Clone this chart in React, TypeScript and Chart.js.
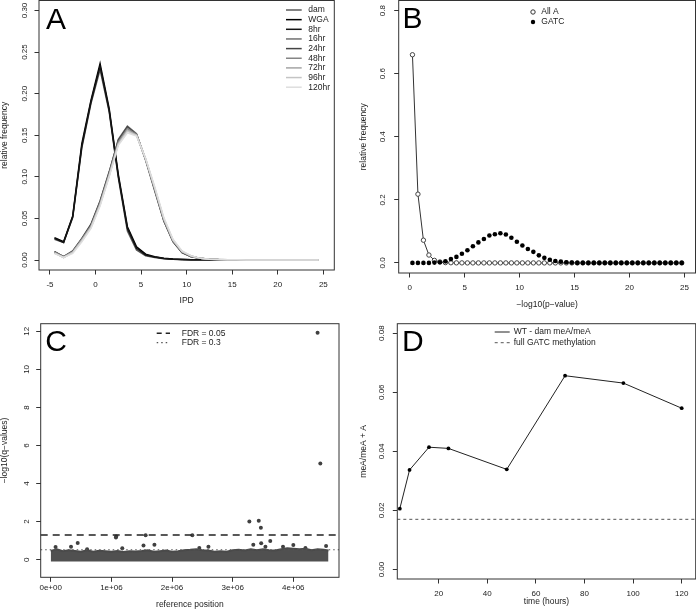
import React, { useEffect, useRef } from 'react';
import { Chart, registerables } from 'chart.js';
Chart.register(...registerables);

const PAGE_W = 696;
const PAGE_H = 609;
const FONT = '"Liberation Sans", Arial, Helvetica, sans-serif';
const INK = '#222';
const AXIS = '#333';
const TICK_SIZE = 8;
const TITLE_SIZE = 8.5;
const LEGEND_SIZE = 8.5;

// ---------------- Panel A: IPD distributions ----------------
const ipdBins = [-4.5, -3.5, -2.5, -1.5, -0.5, 0.5, 1.5, 2.5, 3.5, 4.5, 5.5, 6.5, 7.5, 8.5, 9.5, 10.5, 11.5, 12.5, 13.5, 14.5, 15.5, 16.5, 17.5, 18.5, 19.5, 20.5, 21.5, 22.5, 23.5, 24.5];
const ipdLabels = ['dam', 'WGA', '8hr', '16hr', '24hr', '48hr', '72hr', '96hr', '120hr'];
const ipdColors = ['#5a5a5a', '#000000', '#141414', '#707070', '#444444', '#858585', '#a5a5a5', '#c4c4c4', '#dedede'];
const ipdDam = [0.025, 0.021, 0.051, 0.135, 0.188, 0.229, 0.178, 0.099, 0.035, 0.012, 0.005, 0.003, 0.0015, 0.001, 0.0006, 0.0004, 0.0003, 0.0002, 0.0001, 0.0001, 0.0001, 0, 0, 0, 0, 0, 0, 0, 0, 0];
const ipdWGA = [0.027, 0.022, 0.053, 0.140, 0.192, 0.236, 0.182, 0.103, 0.040, 0.016, 0.007, 0.004, 0.002, 0.0012, 0.0007, 0.0004, 0.0003, 0.0002, 0.0001, 0.0001, 0.0001, 0, 0, 0, 0, 0, 0, 0, 0, 0];
const ipd8hr = [0.026, 0.021, 0.052, 0.137, 0.190, 0.233, 0.180, 0.101, 0.038, 0.014, 0.006, 0.0035, 0.0018, 0.001, 0.0006, 0.0004, 0.0002, 0.0002, 0.0001, 0.0001, 0, 0, 0, 0, 0, 0, 0, 0, 0, 0];
const ipd16hr = [0.010, 0.004, 0.010, 0.025, 0.042, 0.070, 0.105, 0.145, 0.161, 0.152, 0.120, 0.083, 0.047, 0.022, 0.009, 0.004, 0.002, 0.001, 0.0005, 0.0003, 0.0002, 0.0001, 0, 0, 0, 0, 0, 0, 0, 0];
const ipd24hr = [0.010, 0.004, 0.011, 0.026, 0.043, 0.071, 0.106, 0.144, 0.160, 0.151, 0.121, 0.084, 0.047, 0.022, 0.009, 0.004, 0.002, 0.001, 0.0005, 0.0003, 0.0002, 0.0001, 0, 0, 0, 0, 0, 0, 0, 0];
const ipd48hr = [0.009, 0.004, 0.010, 0.025, 0.041, 0.069, 0.104, 0.142, 0.158, 0.151, 0.121, 0.085, 0.048, 0.023, 0.010, 0.004, 0.002, 0.001, 0.0005, 0.0003, 0.0002, 0.0001, 0, 0, 0, 0, 0, 0, 0, 0];
const ipd72hr = [0.009, 0.003, 0.009, 0.024, 0.040, 0.067, 0.102, 0.140, 0.156, 0.150, 0.121, 0.086, 0.049, 0.024, 0.010, 0.005, 0.002, 0.001, 0.0006, 0.0003, 0.0002, 0.0001, 0, 0, 0, 0, 0, 0, 0, 0];
const ipd96hr = [0.008, 0.003, 0.009, 0.023, 0.039, 0.066, 0.101, 0.139, 0.155, 0.150, 0.122, 0.087, 0.050, 0.024, 0.010, 0.005, 0.002, 0.001, 0.0006, 0.0003, 0.0002, 0.0001, 0, 0, 0, 0, 0, 0, 0, 0];
const ipd120hr = [0.008, 0.003, 0.008, 0.022, 0.038, 0.065, 0.100, 0.138, 0.153, 0.149, 0.122, 0.088, 0.051, 0.025, 0.011, 0.005, 0.002, 0.001, 0.0006, 0.0003, 0.0002, 0.0001, 0, 0, 0, 0, 0, 0, 0, 0];
const ipdSeries = [ipdDam, ipdWGA, ipd8hr, ipd16hr, ipd24hr, ipd48hr, ipd72hr, ipd96hr, ipd120hr];
const ipdXTicks = [-5, 0, 5, 10, 15, 20, 25];
const ipdYTicks = [0, 0.05, 0.1, 0.15, 0.2, 0.25, 0.3];

// ---------------- Panel B: p-value distributions ----------------
const pvalBins = [0.25, 0.75, 1.25, 1.75, 2.25, 2.75, 3.25, 3.75, 4.25, 4.75, 5.25, 5.75, 6.25, 6.75, 7.25, 7.75, 8.25, 8.75, 9.25, 9.75, 10.25, 10.75, 11.25, 11.75, 12.25, 12.75, 13.25, 13.75, 14.25, 14.75, 15.25, 15.75, 16.25, 16.75, 17.25, 17.75, 18.25, 18.75, 19.25, 19.75, 20.25, 20.75, 21.25, 21.75, 22.25, 22.75, 23.25, 23.75, 24.25, 24.75];
const allAFreq = [0.660, 0.218, 0.072, 0.025, 0.008, 0.003, 0.001, 0.0005, 0.0002, 0.0001, 0, 0, 0, 0, 0, 0, 0, 0, 0, 0, 0, 0, 0, 0, 0, 0, 0, 0, 0, 0, 0, 0, 0, 0, 0, 0, 0, 0, 0, 0, 0, 0, 0, 0, 0, 0, 0, 0, 0, 0];
const gatcFreq = [0, 0, 0, 0, 0.001, 0.002, 0.005, 0.012, 0.019, 0.029, 0.040, 0.053, 0.065, 0.076, 0.087, 0.091, 0.094, 0.090, 0.080, 0.067, 0.055, 0.044, 0.035, 0.024, 0.016, 0.010, 0.006, 0.004, 0.002, 0.001, 0, 0, 0, 0, 0, 0, 0, 0, 0, 0, 0, 0, 0, 0, 0, 0, 0, 0, 0, 0];
const pvalXTicks = [0, 5, 10, 15, 20, 25];
const pvalYTicks = [0, 0.2, 0.4, 0.6, 0.8];

// ---------------- Panel C: q-values along the genome ----------------
const bandPosMb = [0.00, 0.10, 0.20, 0.30, 0.40, 0.50, 0.60, 0.70, 0.80, 0.90, 1.00, 1.10, 1.20, 1.30, 1.40, 1.50, 1.60, 1.70, 1.80, 1.90, 2.00, 2.10, 2.20, 2.30, 2.40, 2.50, 2.60, 2.70, 2.80, 2.90, 3.00, 3.10, 3.20, 3.30, 3.40, 3.50, 3.60, 3.70, 3.80, 3.90, 4.00, 4.10, 4.20, 4.30, 4.40, 4.50, 4.58];
const bandTop = [0.46, 0.55, 0.45, 0.50, 0.46, 0.42, 0.50, 0.42, 0.47, 0.45, 0.42, 0.46, 0.40, 0.45, 0.43, 0.46, 0.50, 0.42, 0.45, 0.48, 0.42, 0.45, 0.50, 0.52, 0.55, 0.50, 0.48, 0.42, 0.45, 0.42, 0.50, 0.52, 0.48, 0.55, 0.50, 0.55, 0.50, 0.48, 0.55, 0.60, 0.58, 0.55, 0.58, 0.50, 0.55, 0.52, 0.48];
const outlierPosMb = [4.40, 4.445, 3.275, 3.43, 3.465, 1.075, 1.08, 1.565, 2.335, 0.445, 0.335, 0.08, 1.18, 1.53, 1.71, 3.62, 3.34, 3.47, 3.54, 4.00, 4.54, 2.60, 0.60, 3.83, 4.20, 2.45];
const outlierQ = [11.93, 5.06, 2.01, 2.05, 1.68, 1.17, 1.22, 1.28, 1.28, 0.875, 0.68, 0.67, 0.60, 0.75, 0.79, 0.98, 0.79, 0.86, 0.68, 0.77, 0.72, 0.68, 0.55, 0.68, 0.62, 0.62];
const fdrLabels = ['FDR = 0.05', 'FDR = 0.3'];
const fdrLevels = [0.05, 0.3];
const posXTicks = [0, 1e6, 2e6, 3e6, 4e6];
const qYTicks = [0, 2, 4, 6, 8, 10, 12];

// ---------------- Panel D: methylation over time ----------------
const timeHours = [4, 8, 16, 24, 48, 72, 96, 120];
const meFraction = [0.0206, 0.0337, 0.0414, 0.0410, 0.0339, 0.0656, 0.0631, 0.0546];
const fullGatcLevel = 0.0170;
const dLabels = ['WT - dam meA/meA', 'full GATC methylation'];
const timeXTicks = [20, 40, 60, 80, 100, 120];
const meYTicks = [0, 0.02, 0.04, 0.06, 0.08];

// ---------------- helpers ----------------
type AxisSpec = {
  min: number; max: number; ticks: number[]; fmt: (v: number) => string;
  size: number; pad: number; title: string; titlePad?: number;
};

function axis(spec: AxisSpec, vertical: boolean) {
  return {
    type: 'linear',
    position: vertical ? 'left' : 'bottom',
    min: spec.min,
    max: spec.max,
    afterBuildTicks: (s: any) => { s.ticks = spec.ticks.map((v) => ({ value: v })); },
    afterFit: (s: any) => {
      if (vertical) s.width = spec.size; else s.height = spec.size;
      s.paddingLeft = 0; s.paddingRight = 0; s.paddingTop = 0; s.paddingBottom = 0;
    },
    grid: { display: true, drawOnChartArea: false, drawTicks: true, tickLength: 4.5, tickWidth: 1, tickColor: AXIS, color: AXIS },
    border: { display: false },
    ticks: {
      autoSkip: false,
      padding: spec.pad,
      color: INK,
      font: { family: FONT, size: TICK_SIZE },
      minRotation: vertical ? 90 : 0,
      maxRotation: vertical ? 90 : 0,
      crossAlign: vertical ? 'center' : 'near',
      callback: (v: any) => spec.fmt(Number(v)),
    },
    title: {
      display: true, text: spec.title, color: INK,
      font: { family: FONT, size: TITLE_SIZE, lineHeight: 1 },
      padding: { top: spec.titlePad ?? 0, bottom: spec.titlePad ?? 0 },
    },
  };
}

function frame(letter: string, lx: number, ly: number) {
  return {
    id: 'frame' + letter,
    afterDraw(chart: any) {
      const { ctx, chartArea: a } = chart;
      ctx.save();
      ctx.strokeStyle = AXIS;
      ctx.lineWidth = 1;
      ctx.strokeRect(a.left, a.top, a.right - a.left, a.bottom - a.top);
      ctx.fillStyle = '#000';
      ctx.font = `30px ${FONT}`;
      ctx.textAlign = 'left';
      ctx.textBaseline = 'alphabetic';
      ctx.fillText(letter, lx, ly);
      ctx.restore();
    },
  };
}

type LegendItem = { label: string; kind: 'line' | 'open' | 'filled'; color: string; width?: number; dash?: number[] };
function legend(id: string, items: LegendItem[], ys: number[], x0: number, x1: number, tx: number) {
  return {
    id,
    afterDraw(chart: any) {
      const ctx = chart.ctx;
      ctx.save();
      ctx.font = `${LEGEND_SIZE}px ${FONT}`;
      ctx.textBaseline = 'middle';
      ctx.textAlign = 'left';
      items.forEach((it, i) => {
        const y = ys[i];
        if (it.kind === 'line') {
          ctx.beginPath();
          ctx.setLineDash(it.dash ?? []);
          ctx.strokeStyle = it.color;
          ctx.lineWidth = it.width ?? 1;
          ctx.moveTo(x0, y);
          ctx.lineTo(x1, y);
          ctx.stroke();
          ctx.setLineDash([]);
        } else {
          ctx.beginPath();
          ctx.arc((x0 + x1) / 2, y, 2.2, 0, Math.PI * 2);
          if (it.kind === 'filled') { ctx.fillStyle = it.color; ctx.fill(); }
          else { ctx.strokeStyle = it.color; ctx.lineWidth = 1; ctx.stroke(); }
        }
        ctx.fillStyle = INK;
        ctx.fillText(it.label, tx, y);
      });
      ctx.restore();
    },
  };
}

function hlines(id: string, lines: { value: number; color: string; width: number; dash: number[] }[]) {
  return {
    id,
    afterDatasetsDraw(chart: any) {
      const { ctx, chartArea: a, scales } = chart;
      ctx.save();
      lines.forEach((l) => {
        const py = scales.y.getPixelForValue(l.value);
        ctx.beginPath();
        ctx.setLineDash(l.dash);
        ctx.strokeStyle = l.color;
        ctx.lineWidth = l.width;
        ctx.moveTo(a.left, py);
        ctx.lineTo(a.right, py);
        ctx.stroke();
      });
      ctx.restore();
    },
  };
}

function baseOptions(padding: any, x: any, y: any) {
  return {
    responsive: false,
    maintainAspectRatio: false,
    devicePixelRatio: 1,
    animation: false,
    events: [],
    layout: { padding, autoPadding: false },
    plugins: { legend: { display: false }, tooltip: { enabled: false }, title: { display: false } },
    scales: { x, y },
  };
}

// ---------------- chart builders ----------------
function buildA() {
  const datasets = ipdSeries.map((s, k) => ({
    label: ipdLabels[k],
    data: ipdBins.map((x, i) => ({ x, y: s[i] })),
    showLine: true,
    borderColor: ipdColors[k],
    borderWidth: 1.5,
    pointRadius: 0,
    tension: 0,
    order: ipdSeries.length - k,
  }));
  const ys = ipdLabels.map((_, i) => 10 + i * 9.65);
  return {
    type: 'scatter',
    data: { datasets },
    options: baseOptions(
      { left: 0, top: 0.5, right: PAGE_W - 334.3, bottom: PAGE_H - 270 - 34.5 },
      axis({ min: -6.2, max: 26.2, ticks: ipdXTicks, fmt: (v) => String(v), size: 34.5, pad: 5.7, title: 'IPD' }, false),
      axis({ min: -0.012, max: 0.312, ticks: ipdYTicks, fmt: (v) => v.toFixed(2), size: 39, pad: 1.7, title: 'relative frequency' }, true),
    ),
    plugins: [
      frame('A', 46, 29.3),
      legend('legA', ipdLabels.map((l, i) => ({ label: l, kind: 'line', color: ipdColors[i], width: 1.5 })), ys, 286, 301.7, 308.3),
    ],
  };
}

function buildB() {
  return {
    type: 'scatter',
    data: {
      datasets: [
        {
          label: 'GATC',
          data: pvalBins.map((x, i) => ({ x, y: gatcFreq[i] })),
          showLine: false,
          pointRadius: 2.3,
          pointBorderWidth: 0,
          pointBackgroundColor: '#000',
          order: 0,
        },
        {
          label: 'All A',
          data: pvalBins.map((x, i) => ({ x, y: allAFreq[i] })),
          showLine: true,
          borderColor: '#333',
          borderWidth: 1,
          pointRadius: 2.2,
          pointBorderWidth: 1,
          pointBorderColor: '#444',
          pointBackgroundColor: '#fff',
          order: 1,
        },
      ],
    },
    options: baseOptions(
      { left: 359.5, top: 0.5, right: 0.5, bottom: PAGE_H - 273 - 35.5 },
      axis({ min: -1, max: 26, ticks: pvalXTicks, fmt: (v) => String(v), size: 35.5, pad: 5.7, title: '\u2212log10(p\u2212value)' }, false),
      axis({ min: -0.032, max: 0.832, ticks: pvalYTicks, fmt: (v) => v.toFixed(1), size: 39.2, pad: 5.6, title: 'relative frequency' }, true),
    ),
    plugins: [
      frame('B', 402.5, 28.3),
      legend('legB', [
        { label: 'All A', kind: 'open', color: '#333' },
        { label: 'GATC', kind: 'filled', color: '#000' },
      ], [12, 22], 530, 536, 541.3),
    ],
  };
}

function buildC() {
  const qThresholds = fdrLevels.map((f) => -Math.log10(f));
  return {
    type: 'scatter',
    data: {
      datasets: [
        {
          label: 'band',
          data: bandPosMb.map((p, i) => ({ x: p * 1e6, y: bandTop[i] })),
          showLine: true,
          borderColor: '#4a4a4a',
          borderWidth: 2,
          backgroundColor: '#505050',
          fill: { value: -0.1 },
          pointRadius: 0,
          tension: 0,
        },
        {
          label: 'sites',
          data: outlierPosMb.map((p, i) => ({ x: p * 1e6, y: outlierQ[i] })),
          showLine: false,
          pointRadius: 2,
          pointBorderWidth: 0,
          pointBackgroundColor: '#404040',
        },
      ],
    },
    options: baseOptions(
      { left: 0, top: 323.7, right: PAGE_W - 339, bottom: 0.5 },
      axis({ min: -0.165e6, max: 4.753e6, ticks: posXTicks, fmt: (v) => (v === 0 ? '0e+00' : `${v / 1e6}e+06`), size: 31.2, pad: 0.7, title: 'reference position' }, false),
      axis({ min: -0.925, max: 12.4, ticks: qYTicks, fmt: (v) => String(v), size: 40.7, pad: 5, title: '\u2212log10(q\u2212values)' }, true),
    ),
    plugins: [
      hlines('fdrC', [
        { value: qThresholds[0], color: '#222', width: 1.4, dash: [7, 5] },
        { value: qThresholds[1], color: '#555', width: 1.2, dash: [1.5, 3] },
      ]),
      frame('C', 45.2, 351.3),
      legend('legC', [
        { label: fdrLabels[0], kind: 'line', color: '#222', width: 1.4, dash: [5, 4] },
        { label: fdrLabels[1], kind: 'line', color: '#555', width: 1.2, dash: [1.5, 3] },
      ], [333.3, 342.7], 156.7, 170, 181.7),
    ],
  };
}

function buildD() {
  return {
    type: 'scatter',
    data: {
      datasets: [
        {
          label: dLabels[0],
          data: timeHours.map((t, i) => ({ x: t, y: meFraction[i] })),
          showLine: true,
          borderColor: '#222',
          borderWidth: 1,
          pointRadius: 1.9,
          pointBorderWidth: 0,
          pointBackgroundColor: '#000',
          tension: 0,
        },
      ],
    },
    options: baseOptions(
      { left: 359.5, top: 323.7, right: 0.3, bottom: PAGE_H - 579 - 26.5 },
      axis({ min: 2.96, max: 125.76, ticks: timeXTicks, fmt: (v) => String(v), size: 26.5, pad: 5.2, title: 'time (hours)' }, false),
      axis({ min: -0.0032, max: 0.0832, ticks: meYTicks, fmt: (v) => v.toFixed(2), size: 37.8, pad: 3, title: 'meA/meA + A' }, true),
    ),
    plugins: [
      hlines('gatcD', [{ value: fullGatcLevel, color: '#555', width: 1, dash: [3, 3] }]),
      frame('D', 402, 350.7),
      legend('legD', [
        { label: dLabels[0], kind: 'line', color: '#222', width: 1 },
        { label: dLabels[1], kind: 'line', color: '#555', width: 1, dash: [3, 3] },
      ], [332, 342.7], 494.7, 509.7, 513.7),
    ],
  };
}

function ChartCanvas({ build }: { build: () => any }) {
  const ref = useRef<HTMLCanvasElement>(null);
  useEffect(() => {
    const chart = new Chart(ref.current as HTMLCanvasElement, build());
    return () => chart.destroy();
  }, []);
  return (
    <canvas
      ref={ref}
      width={PAGE_W}
      height={PAGE_H}
      style={{ position: 'absolute', left: 0, top: 0, width: PAGE_W, height: PAGE_H }}
    />
  );
}

export default function App() {
  return (
    <div style={{ position: 'fixed', left: 0, top: 0, width: PAGE_W, height: PAGE_H, background: '#fff', overflow: 'hidden' }}>
      <ChartCanvas build={buildA} />
      <ChartCanvas build={buildB} />
      <ChartCanvas build={buildC} />
      <ChartCanvas build={buildD} />
    </div>
  );
}
